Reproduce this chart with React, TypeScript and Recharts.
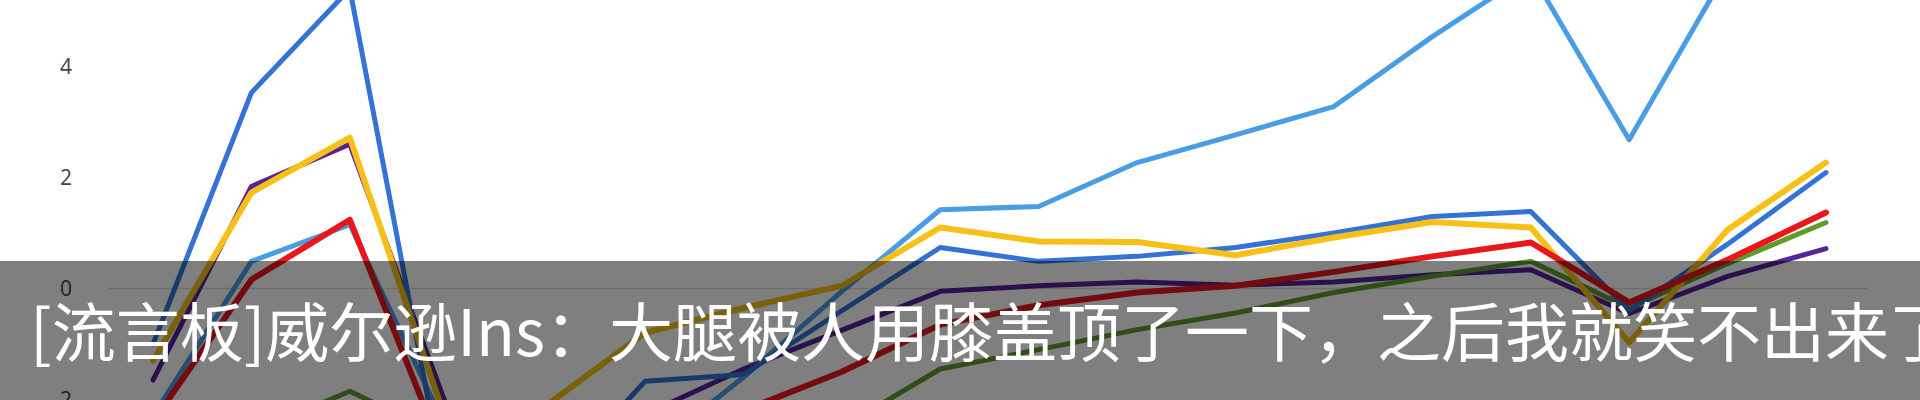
import { LineChart, Line, XAxis, YAxis, ReferenceLine } from 'recharts'

const periods = ['1', '2', '3', '4', '5', '6', '7', '8', '9', '10', '11', '12', '13', '14', '15', '16', '17', '18']

const darkBlue = [-1.0, 3.53, 5.4, -3.9, -3.6, -1.67, -1.55, -0.4, 0.74, 0.49, 0.58, 0.74, 1.0, 1.3, 1.39, -0.4, 0.8, 2.09]
const lightBlue = [-2.3, 0.49, 1.15, -2.6, -3.2, -3.0, -1.6, -0.05, 1.42, 1.48, 2.27, 2.77, 3.28, 4.54, 5.7, 2.68, 5.75, 6.3]
const yellow = [-1.3, 1.73, 2.72, -2.5, -2.1, -0.8, -0.35, 0.05, 1.1, 0.85, 0.84, 0.6, 0.92, 1.2, 1.1, -0.97, 1.06, 2.27]
const purple = [-1.65, 1.84, 2.6, -2.2, -2.6, -2.27, -1.45, -0.75, -0.05, 0.05, 0.12, 0.06, 0.12, 0.25, 0.34, -0.45, 0.22, 0.72]
const red = [-2.4, 0.16, 1.24, -3.2, -3.0, -2.6, -2.2, -1.5, -0.65, -0.3, -0.07, 0.05, 0.3, 0.58, 0.83, -0.25, 0.52, 1.37]
const green = [-2.8, -2.6, -1.85, -2.7, -3.0, -3.0, -2.9, -2.5, -1.45, -1.1, -0.74, -0.44, -0.07, 0.22, 0.49, -0.35, 0.45, 1.19]

const yTicks = [-4, -2, 0, 2, 4]

const caption = '[流言板]威尔逊Ins：大腿被人用膝盖顶了一下，之后我就笑不出来了'

const data = periods.map((name, i) => ({
  name,
  darkBlue: darkBlue[i],
  lightBlue: lightBlue[i],
  yellow: yellow[i],
  purple: purple[i],
  red: red[i],
  green: green[i],
}))

// bottom to top drawing order
const series = [
  { key: 'purple', color: '#55239a', width: 5 },
  { key: 'green', color: '#5f9b2c', width: 5 },
  { key: 'lightBlue', color: '#4a9de2', width: 5 },
  { key: 'darkBlue', color: '#3572d6', width: 5 },
  { key: 'yellow', color: '#f6c019', width: 6 },
  { key: 'red', color: '#e8171c', width: 6 },
]

export default function App() {
  return (
    <div
      style={{
        position: 'absolute',
        top: 0,
        left: 0,
        width: 1920,
        height: 400,
        overflow: 'hidden',
        background: '#fff',
      }}
    >
      <LineChart width={1920} height={566} data={data} margin={{ top: 0, right: 52, left: 0, bottom: 0 }}>
        <XAxis dataKey="name" hide height={0} padding={{ left: 45, right: 42 }} />
        <YAxis
          width={108}
          domain={[-5, 5.2]}
          allowDataOverflow
          ticks={yTicks}
          axisLine={false}
          tickLine={false}
          tickSize={0}
          tickMargin={36}
          tick={{ fill: '#444', fontSize: 21, fontFamily: "'Open Sans', sans-serif" }}
        />
        <ReferenceLine y={0} stroke="#d9d9d9" strokeWidth={1.5} />
        {series.map(s => (
          <Line
            key={s.key}
            type="linear"
            dataKey={s.key}
            stroke={s.color}
            strokeWidth={s.width}
            strokeLinejoin="round"
            strokeLinecap="round"
            dot={false}
            activeDot={false}
            isAnimationActive={false}
          />
        ))}
      </LineChart>
      <div
        style={{
          position: 'absolute',
          top: 261,
          left: 0,
          width: 1920,
          height: 139,
          background: 'rgba(0,0,0,0.5)',
        }}
      >
        <svg width={1920} height={139} style={{ display: 'block' }}>
          <text x={30} y={95} fill="#fff" fontSize={64} fontFamily="'Noto Sans CJK SC', sans-serif">
            {caption}
          </text>
        </svg>
      </div>
    </div>
  )
}
